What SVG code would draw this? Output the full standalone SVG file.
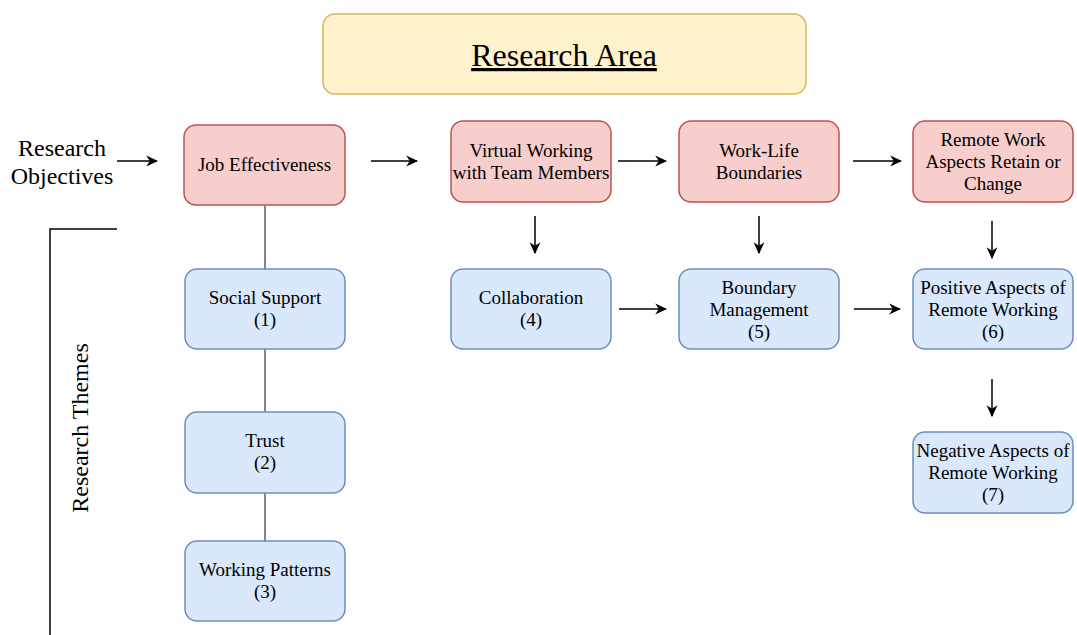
<svg xmlns="http://www.w3.org/2000/svg" width="1077" height="635" viewBox="0 0 1077 635">
<style>
text{font-family:"Liberation Serif","Times New Roman",serif;fill:#000;text-anchor:middle}
.t{font-size:19px}
.big{font-size:24px}
.red{fill:#f8cecc;stroke:#b85450;stroke-width:1.5}
.blue{fill:#dae8fc;stroke:#6c8ebf;stroke-width:1.5}
.yel{fill:#fff2cc;stroke:#d6b656;stroke-width:1.5}
.c{stroke:#000;stroke-width:1.5;fill:none}
.a{marker-end:url(#ah)}
.l{stroke:#333;stroke-width:1.2;fill:none}
</style>
<defs>
<marker id="ah" viewBox="0 0 10 10" refX="9" refY="5" markerWidth="12" markerHeight="12" markerUnits="userSpaceOnUse" orient="auto">
<path d="M0,0.5 L10,5 L0,9.5 L3,5 z" fill="#000"/>
</marker>
</defs>
<rect width="1077" height="635" fill="#fff"/>
<g id="connectors">
<line class="c a" x1="117" y1="161" x2="157" y2="161"/>
<line class="c a" x1="371" y1="161" x2="417" y2="161"/>
<line class="c a" x1="618" y1="161" x2="666" y2="161"/>
<line class="c a" x1="853" y1="161" x2="901" y2="161"/>
<line class="c a" x1="535" y1="216" x2="535" y2="253"/>
<line class="c a" x1="759" y1="216" x2="759" y2="253"/>
<line class="c a" x1="992" y1="221" x2="992" y2="258"/>
<line class="c a" x1="619" y1="309" x2="666" y2="309"/>
<line class="c a" x1="854" y1="309" x2="900" y2="309"/>
<line class="c a" x1="992" y1="379" x2="992" y2="416"/>
<line class="l" x1="265" y1="206" x2="265" y2="269"/>
<line class="l" x1="265" y1="349" x2="265" y2="412"/>
<line class="l" x1="265" y1="493" x2="265" y2="541"/>
<polyline class="c" points="117,229 50,229 50,635"/>
</g>
<g id="research-area">
<rect class="yel" x="323" y="14" width="483" height="80" rx="12"/>
<text x="564" y="66" font-size="32" text-decoration="underline">Research Area</text>
</g>
<g id="research-objectives">
<text class="big" x="62" y="156">Research</text>
<text class="big" x="62" y="184">Objectives</text>
</g>
<g id="research-themes">
<text class="big" transform="translate(88,428) rotate(-90)">Research Themes</text>
</g>
<g id="job-effectiveness">
<rect class="red" x="184" y="125" width="161" height="80" rx="12"/>
<text class="t" x="264.5" y="171">Job Effectiveness</text>
</g>
<g id="virtual-working">
<rect class="red" x="451" y="121" width="160" height="81" rx="12"/>
<text class="t" x="531" y="157">Virtual Working</text>
<text class="t" x="531" y="179">with Team Members</text>
</g>
<g id="work-life">
<rect class="red" x="679" y="121" width="160" height="81" rx="12"/>
<text class="t" x="759" y="157">Work-Life</text>
<text class="t" x="759" y="179">Boundaries</text>
</g>
<g id="remote-work">
<rect class="red" x="913" y="121" width="160" height="81" rx="12"/>
<text class="t" x="993" y="146">Remote Work</text>
<text class="t" x="993" y="168">Aspects Retain or</text>
<text class="t" x="993" y="190">Change</text>
</g>
<g id="social-support">
<rect class="blue" x="185" y="269" width="160" height="80" rx="12"/>
<text class="t" x="265" y="304">Social Support</text>
<text class="t" x="265" y="326">(1)</text>
</g>
<g id="trust">
<rect class="blue" x="185" y="412" width="160" height="81" rx="12"/>
<text class="t" x="265" y="447">Trust</text>
<text class="t" x="265" y="469">(2)</text>
</g>
<g id="working-patterns">
<rect class="blue" x="185" y="541" width="160" height="80" rx="12"/>
<text class="t" x="265" y="576">Working Patterns</text>
<text class="t" x="265" y="598">(3)</text>
</g>
<g id="collaboration">
<rect class="blue" x="451" y="269" width="160" height="80" rx="12"/>
<text class="t" x="531" y="304">Collaboration</text>
<text class="t" x="531" y="326">(4)</text>
</g>
<g id="boundary-management">
<rect class="blue" x="679" y="269" width="160" height="80" rx="12"/>
<text class="t" x="759" y="294">Boundary</text>
<text class="t" x="759" y="316">Management</text>
<text class="t" x="759" y="338">(5)</text>
</g>
<g id="positive-aspects">
<rect class="blue" x="913" y="269" width="160" height="80" rx="12"/>
<text class="t" x="993" y="294">Positive Aspects of</text>
<text class="t" x="993" y="316">Remote Working</text>
<text class="t" x="993" y="338">(6)</text>
</g>
<g id="negative-aspects">
<rect class="blue" x="913" y="432" width="160" height="81" rx="12"/>
<text class="t" x="993" y="457">Negative Aspects of</text>
<text class="t" x="993" y="479">Remote Working</text>
<text class="t" x="993" y="501">(7)</text>
</g>
</svg>
